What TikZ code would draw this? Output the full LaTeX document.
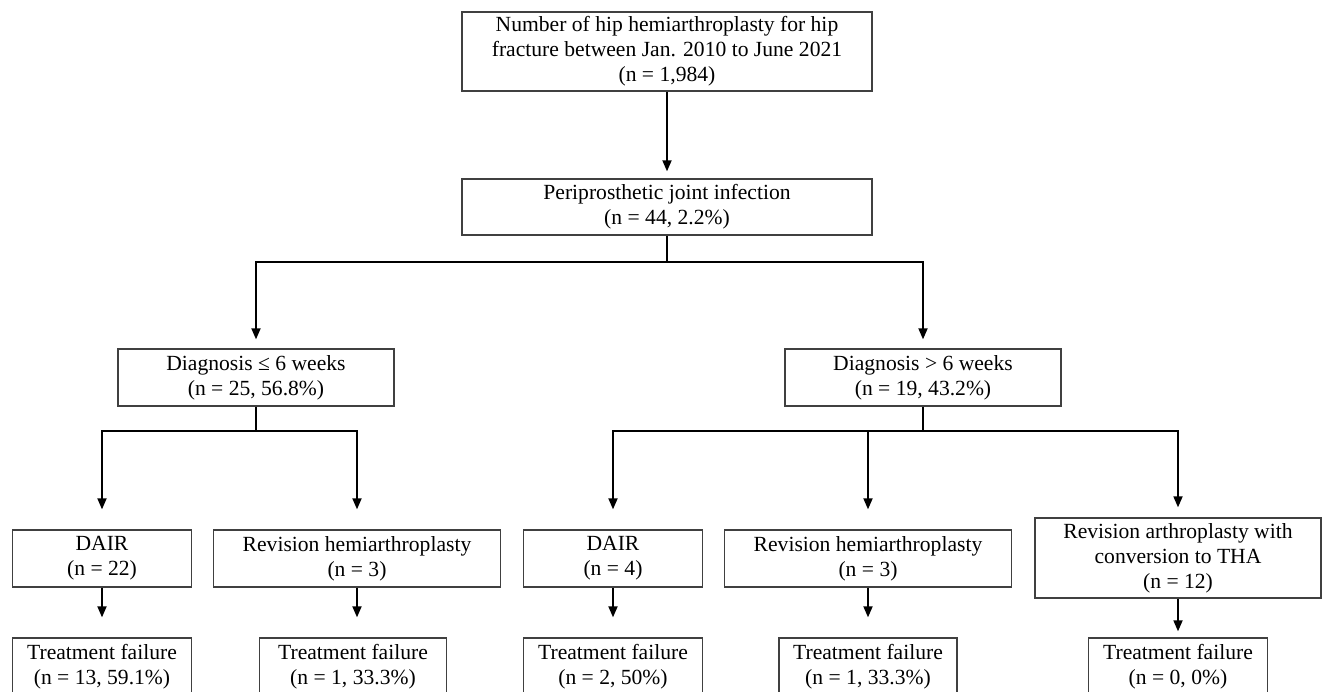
\documentclass[tikz,border=0pt]{standalone}
\usepackage{fontspec}
\setmainfont{Liberation Serif}
\usetikzlibrary{arrows.meta}
\begin{document}
\begin{tikzpicture}[x=1pt,y=-1pt,
 box/.style={draw=black!75,line width=1.3pt,align=center,inner sep=0pt,font=\fontsize{21.6}{25}\selectfont,anchor=center},
 conn/.style={line width=1.8pt,black},
 arr/.style={conn,-{Triangle[length=11pt,width=9pt]}}]
\useasboundingbox (0,0) rectangle (1322,692);
% boxes
\node[box,minimum width=410,minimum height=79] (top) at (667,51.5) {Number of hip hemiarthroplasty for hip\\fracture between Jan. 2010 to June 2021\\(n = 1,984)};
\node[box,minimum width=410,minimum height=56] (pji) at (667,207) {Periprosthetic joint infection\\(n = 44, 2.2\%)};
\node[box,minimum width=276,minimum height=57] (d1) at (256,377.5) {Diagnosis ≤ 6 weeks\\(n = 25, 56.8\%)};
\node[box,minimum width=276,minimum height=57] (d2) at (923,377.5) {Diagnosis > 6 weeks\\(n = 19, 43.2\%)};
\node[box,minimum width=179,minimum height=57] (a1) at (102,558.5) {DAIR\\(n = 22)};
\node[box,minimum width=287,minimum height=57] (r1) at (357,558.5) {Revision hemiarthroplasty\\(n = 3)};
\node[box,minimum width=179,minimum height=57] (a2) at (613,558.5) {DAIR\\(n = 4)};
\node[box,minimum width=287,minimum height=57] (r2) at (868,558.5) {Revision hemiarthroplasty\\(n = 3)};
\node[box,minimum width=286,minimum height=80] (t) at (1178,558) {Revision arthroplasty with\\conversion to THA\\(n = 12)};
\node[box,minimum width=179,minimum height=57] (f1) at (102,666.5) {Treatment failure\\(n = 13, 59.1\%)};
\node[box,minimum width=187,minimum height=57] (f2) at (353,666.5) {Treatment failure\\(n = 1, 33.3\%)};
\node[box,minimum width=179,minimum height=57] (f3) at (613,666.5) {Treatment failure\\(n = 2, 50\%)};
\node[box,minimum width=178,minimum height=57] (f4) at (868,666.5) {Treatment failure\\(n = 1, 33.3\%)};
\node[box,minimum width=179,minimum height=57] (f5) at (1178,666.5) {Treatment failure\\(n = 0, 0\%)};
% junctions
\coordinate (j0) at (667,262);
\coordinate (k0) at (256,431);
\coordinate (m0) at (923,431);
% connectors
\draw[arr,shorten >=7pt] (top) -- (pji);
\draw[conn] (pji.south) -- (j0);
\draw[arr,shorten >=9pt] (j0) -| (d1.north);
\draw[arr,shorten >=9pt] (j0) -| (d2.north);
\draw[conn] (d1.south) -- (k0);
\draw[arr,shorten >=20pt] (k0) -| (a1.north);
\draw[arr,shorten >=20pt] (k0) -| (r1.north);
\draw[conn] (d2.south) -- (m0);
\draw[arr,shorten >=20pt] (m0) -| (a2.north);
\draw[arr,shorten >=20pt] (m0) -| (r2.north);
\draw[arr,shorten >=10pt] (m0) -| (t.north);
\draw[arr,shorten >=20pt] (a1) -- (f1);
\draw[arr,shorten >=20pt] (r1.south) -- (r1.south |- f2.north);
\draw[arr,shorten >=20pt] (a2) -- (f3);
\draw[arr,shorten >=20pt] (r2.south) -- (r2.south |- f4.north);
\draw[arr,shorten >=6pt] (t) -- (f5);
\end{tikzpicture}
\end{document}
